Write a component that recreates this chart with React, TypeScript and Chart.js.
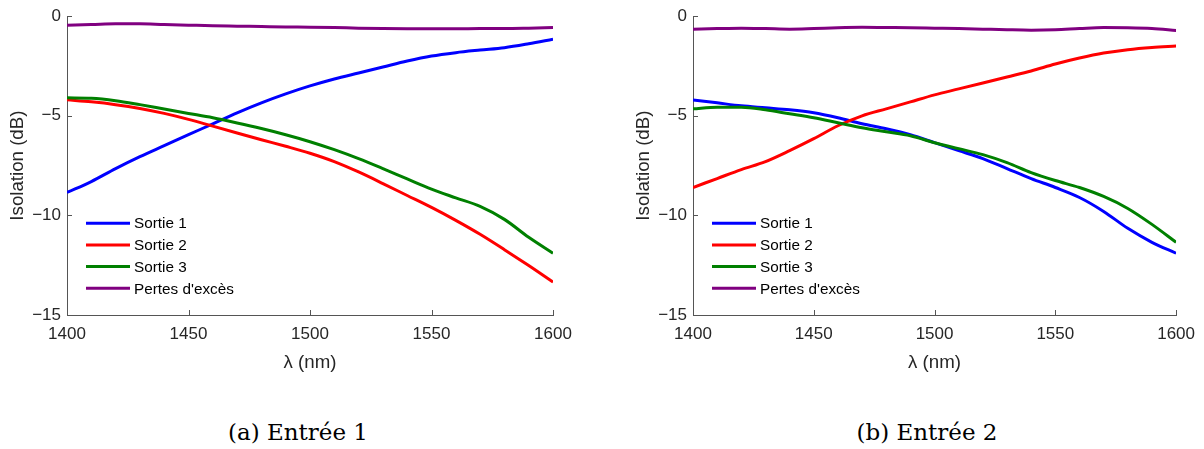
import React, { useEffect, useRef } from "react";
import { Chart, registerables } from "chart.js";

Chart.register(...registerables);

// ---------- data ----------
const wavelengths = [1400, 1410, 1420, 1430, 1440, 1450, 1460, 1470, 1480, 1490, 1500, 1510, 1520, 1530, 1540, 1550, 1560, 1570, 1580, 1590, 1600];

// (a) Entrée 1
const e1Sortie1 = [-8.85, -8.3, -7.65, -7.05, -6.5, -5.95, -5.4, -4.85, -4.35, -3.9, -3.5, -3.15, -2.85, -2.55, -2.25, -2.0, -1.83, -1.7, -1.58, -1.38, -1.15];
const e1Sortie2 = [-4.2, -4.3, -4.44, -4.63, -4.88, -5.18, -5.52, -5.86, -6.2, -6.53, -6.88, -7.3, -7.82, -8.4, -9.0, -9.6, -10.25, -10.95, -11.72, -12.52, -13.35];
const e1Sortie3 = [-4.1, -4.12, -4.24, -4.44, -4.66, -4.88, -5.1, -5.36, -5.64, -5.95, -6.3, -6.7, -7.15, -7.65, -8.17, -8.68, -9.12, -9.55, -10.2, -11.1, -11.9];
const e1Pertes = [-0.45, -0.42, -0.38, -0.38, -0.42, -0.45, -0.48, -0.5, -0.52, -0.54, -0.55, -0.57, -0.6, -0.62, -0.63, -0.63, -0.63, -0.62, -0.62, -0.6, -0.57];

// (b) Entrée 2
const e2Sortie1 = [-4.2, -4.35, -4.5, -4.6, -4.7, -4.85, -5.1, -5.4, -5.65, -5.95, -6.35, -6.75, -7.15, -7.65, -8.15, -8.6, -9.1, -9.8, -10.65, -11.35, -11.9];
const e2Sortie2 = [-8.6, -8.15, -7.7, -7.3, -6.75, -6.15, -5.5, -5.0, -4.65, -4.3, -3.95, -3.65, -3.35, -3.05, -2.75, -2.4, -2.1, -1.85, -1.68, -1.57, -1.5];
const e2Sortie3 = [-4.65, -4.57, -4.57, -4.7, -4.9, -5.1, -5.35, -5.6, -5.8, -6.0, -6.35, -6.65, -6.95, -7.35, -7.85, -8.25, -8.6, -9.05, -9.65, -10.45, -11.35];
const e2Pertes = [-0.65, -0.62, -0.6, -0.62, -0.65, -0.62, -0.58, -0.56, -0.57, -0.58, -0.6, -0.62, -0.65, -0.68, -0.7, -0.68, -0.62, -0.57, -0.58, -0.62, -0.72];

const xTicks = [1400, 1450, 1500, 1550, 1600];
const yTicks = [0, -5, -10, -15];
const seriesLabels = ["Sortie 1", "Sortie 2", "Sortie 3", "Pertes d'excès"];
const seriesColors = ["#0000ff", "#ff0000", "#008000", "#800080"];
const xTitle = "λ (nm)";
const yTitle = "Isolation (dB)";
const captions = ["(a) Entrée 1", "(b) Entrée 2"];

// ---------- styles ----------
const SANS = "'Liberation Sans', Arial, sans-serif";
const AXIS_COLOR = "#555555";
const TEXT_COLOR = "#262626";

type PanelProps = { series: number[][]; padLeft: number; padRight: number };

function Panel({ series, padLeft, padRight }: PanelProps) {
  const ref = useRef<HTMLCanvasElement>(null);
  useEffect(() => {
    if (!ref.current) return;
    const datasets = series.map((vals, i) => ({
      label: seriesLabels[i],
      data: wavelengths.map((w, j) => ({ x: w, y: vals[j] })),
      borderColor: seriesColors[i],
      backgroundColor: seriesColors[i],
      borderWidth: 3,
      pointRadius: 0,
      cubicInterpolationMode: "monotone" as const,
      fill: false,
      order: 4 - i,
    }));

    const decor = {
      id: "decor",
      afterDatasetsDraw(chart: any) {
        const { ctx, chartArea: a, scales } = chart;
        ctx.save();
        // inward tick marks
        ctx.strokeStyle = AXIS_COLOR;
        ctx.lineWidth = 1;
        ctx.beginPath();
        xTicks.forEach((v) => {
          const px = Math.round(scales.x.getPixelForValue(v)) + 0.5;
          ctx.moveTo(px, a.bottom);
          ctx.lineTo(px, a.bottom - 5);
        });
        yTicks.forEach((v) => {
          const py = Math.round(scales.y.getPixelForValue(v)) + 0.5;
          ctx.moveTo(a.left, py);
          ctx.lineTo(a.left + 5, py);
        });
        ctx.stroke();
        // legend
        ctx.font = `15.3px ${SANS}`;
        ctx.textBaseline = "middle";
        ctx.textAlign = "left";
        seriesLabels.forEach((lab, i) => {
          const y = a.top + 207 + i * 21.7;
          ctx.strokeStyle = seriesColors[i];
          ctx.lineWidth = 3;
          ctx.beginPath();
          ctx.moveTo(a.left + 19, y);
          ctx.lineTo(a.left + 63, y);
          ctx.stroke();
          ctx.fillStyle = "#000000";
          ctx.fillText(lab, a.left + 67, y + 1);
        });
        ctx.restore();
      },
    };

    const tickFont = { family: SANS, size: 17 };
    const titleFont = { family: SANS, size: 18.7 };
    const chart = new Chart(ref.current, {
      type: "line",
      data: { datasets },
      options: {
        animation: false,
        responsive: false,
        maintainAspectRatio: false,
        layout: { padding: { left: padLeft, right: padRight, top: 15, bottom: 0 } },
        plugins: { legend: { display: false }, tooltip: { enabled: false } },
        scales: {
          x: {
            type: "linear",
            min: 1400,
            max: 1600,
            grid: { display: false, drawTicks: false },
            border: { display: true, color: AXIS_COLOR, width: 1 },
            ticks: {
              stepSize: 50,
              padding: 9,
              color: TEXT_COLOR,
              font: tickFont,
              maxRotation: 0,
              autoSkip: false,
              callback: (v: any) => String(v),
            },
            title: { display: true, text: xTitle, color: TEXT_COLOR, font: titleFont, padding: { top: 0, bottom: 6 } },
            afterFit: (s: any) => {
              s.height = 65;
            },
          },
          y: {
            type: "linear",
            min: -15,
            max: 0,
            grid: { display: false, drawTicks: false },
            border: { display: true, color: AXIS_COLOR, width: 1 },
            ticks: {
              stepSize: 5,
              padding: 6,
              color: TEXT_COLOR,
              font: tickFont,
              callback: (v: any) => (v < 0 ? "\u2212" + String(-v) : String(v)),
            },
            title: { display: true, text: yTitle, color: TEXT_COLOR, font: titleFont, padding: { top: 7, bottom: 0 } },
            afterFit: (s: any) => {
              s.width = 67;
            },
          },
        },
      },
      plugins: [decor],
    } as any);
    return () => chart.destroy();
  }, [series, padLeft, padRight]);
  return <canvas ref={ref} width={602} height={380} style={{ display: "block", width: 602, height: 380 }} />;
}

const captionStyle = (cx: number): React.CSSProperties => ({
  position: "absolute",
  top: 418,
  left: cx - 150,
  width: 300,
  textAlign: "center",
  fontFamily: "'DejaVu Serif', serif",
  fontSize: 23,
  lineHeight: "28px",
  color: "#000",
  whiteSpace: "nowrap",
});

export default function App() {
  return (
    <div style={{ position: "fixed", left: 0, top: 0, width: 1204, height: 449, background: "#fff", overflow: "hidden" }}>
      <div style={{ position: "absolute", left: 0, top: 0 }}>
        <Panel series={[e1Sortie1, e1Sortie2, e1Sortie3, e1Pertes]} padLeft={0} padRight={49} />
      </div>
      <div style={{ position: "absolute", left: 602, top: 0 }}>
        <Panel series={[e2Sortie1, e2Sortie2, e2Sortie3, e2Pertes]} padLeft={24} padRight={25} />
      </div>
      <div style={captionStyle(298)}>{captions[0]}</div>
      <div style={captionStyle(927)}>{captions[1]}</div>
    </div>
  );
}
